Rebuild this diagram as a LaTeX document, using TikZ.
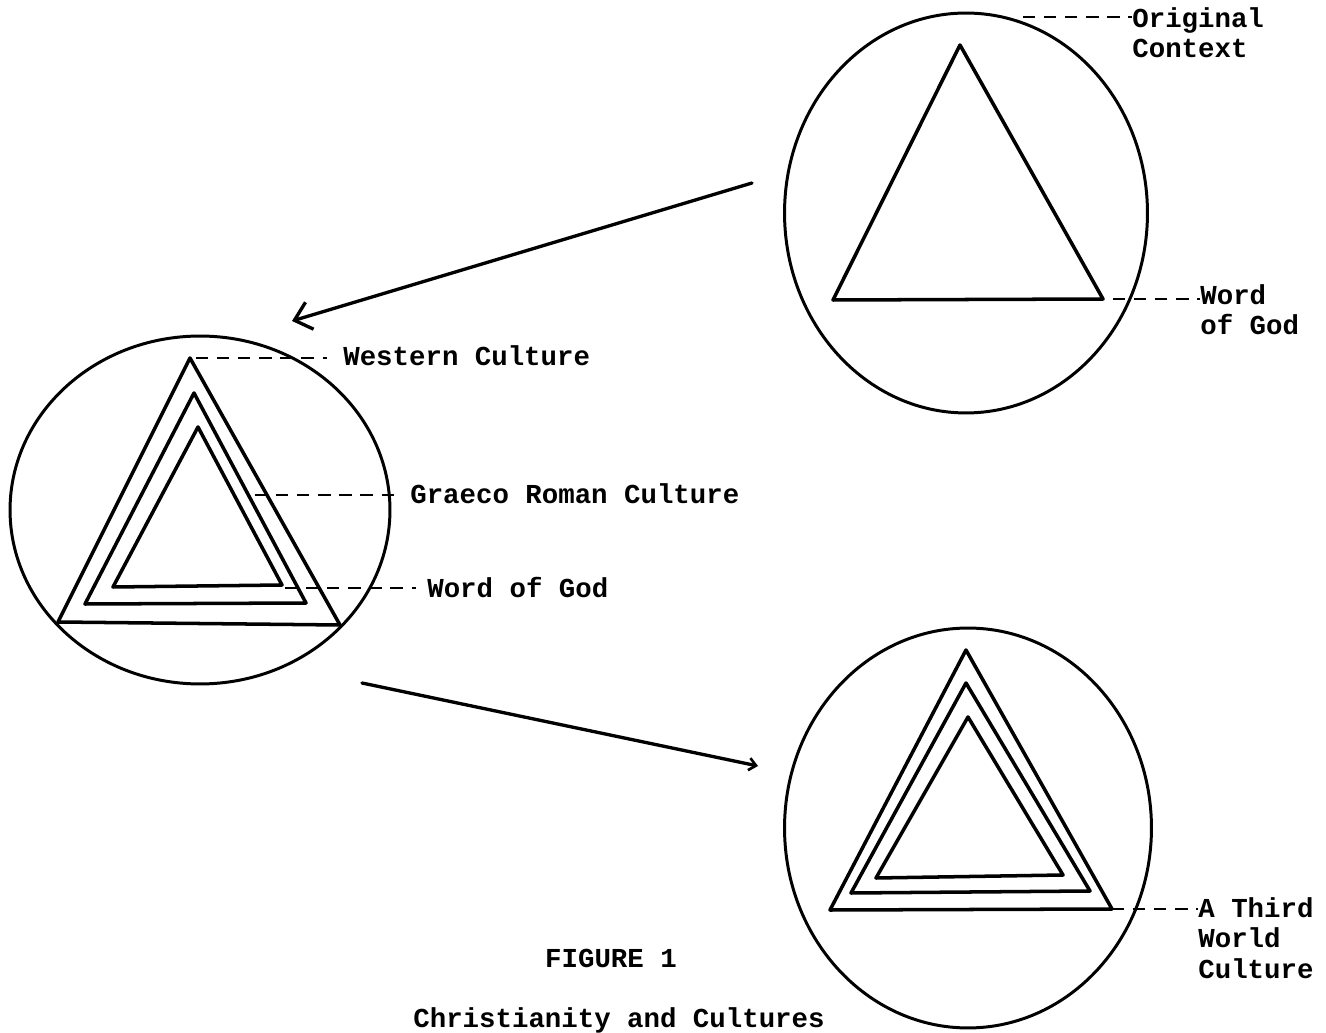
\documentclass[tikz,border=0pt]{standalone}
\usepackage{fontspec}
\setmainfont{Liberation Mono}
\usetikzlibrary{arrows.meta,shapes.geometric}

\tikzset{
  ring/.style={draw, ellipse, line width=1.7pt, inner sep=0pt},
  tri/.style={line width=2pt, line join=round},
  lead/.style={line width=1.4pt, dash pattern=on 7pt off 5pt},
  flow/.style={line width=1.9pt, line cap=round},
  lbl/.style={anchor=base west, inner sep=0pt, align=left, font=\fontsize{15.6}{17.3}\selectfont\bfseries}
}

\begin{document}
\begin{tikzpicture}[x=0.02cm, y=-0.02cm]
\useasboundingbox (0,0) rectangle (1326,1033);

% the three cultures
\node[ring, minimum width=7.26cm, minimum height=8cm] (ctx) at (966,213) {};
\node[ring, minimum width=7.6cm, minimum height=6.96cm] (west) at (200,510) {};
\node[ring, minimum width=7.34cm, minimum height=8cm] (third) at (968,828) {};

% triangles
\draw[tri] (960,45) -- (833,300) -- (1103,299) -- cycle;
\draw[tri] (190,358) -- (58,622) -- (340,625) -- cycle;
\draw[tri] (194,393) -- (85,604) -- (306,603) -- cycle;
\draw[tri] (198,427) -- (113,587) -- (282,585) -- cycle;
\draw[tri] (966,650) -- (830,910) -- (1112,909) -- cycle;
\draw[tri] (966,683) -- (851,893) -- (1090,891) -- cycle;
\draw[tri] (968,717) -- (876,878) -- (1063,875) -- cycle;

% labels (base = last line)
\node[lbl] (ctxlbl) at (1132,58) {Original\\Context};
\node[lbl] (godlbl) at (1200,335) {Word\\of God};
\node[lbl] (westlbl) at (343,366) {Western Culture};
\node[lbl] (greeklbl) at (410,504) {Graeco Roman Culture};
\node[lbl] (wordlbl) at (427,598) {Word of God};
\node[lbl] (thirdlbl) at (1198,978) {A Third\\World\\Culture};
\node[lbl, anchor=base] (fig) at (611,967) {FIGURE 1};
\node[lbl, anchor=base] (caption) at (619,1027) {Christianity and Cultures};

% leader ends
\coordinate (ctxtip) at (1023,17);
\coordinate (godtip) at (1113,299);
\coordinate (westtip) at (196,358);
\coordinate (greektip) at (255,495);
\coordinate (wordtip) at (285,588);
\coordinate (thirdtip) at (1112,909);

\draw[lead] (ctxtip) -- (ctxtip -| ctxlbl.west);
\draw[lead] (godtip) -- (godtip -| godlbl.west);
\draw[lead] (westtip) -- ([xshift=-9pt]westtip -| westlbl.west);
\draw[lead] (greektip) -- ([xshift=-5pt]greektip -| greeklbl.west);
\draw[lead] (wordtip) -- ([xshift=-6pt]wordtip -| wordlbl.west);
\draw[lead] (thirdtip) -- (thirdtip -| thirdlbl.west);

% transmission arrows
\coordinate (out1) at (752,183);
\coordinate (in1) at (292,321);
\coordinate (out2) at (362,683);
\coordinate (in2) at (758,766);
\draw[flow, -{Straight Barb[length=9pt, width=16pt, line width=1.9pt]}] (out1) -- (in1);
\draw[flow, -{Straight Barb[length=4pt, width=7pt, line width=1.5pt]}] (out2) -- (in2);
\end{tikzpicture}
\end{document}
